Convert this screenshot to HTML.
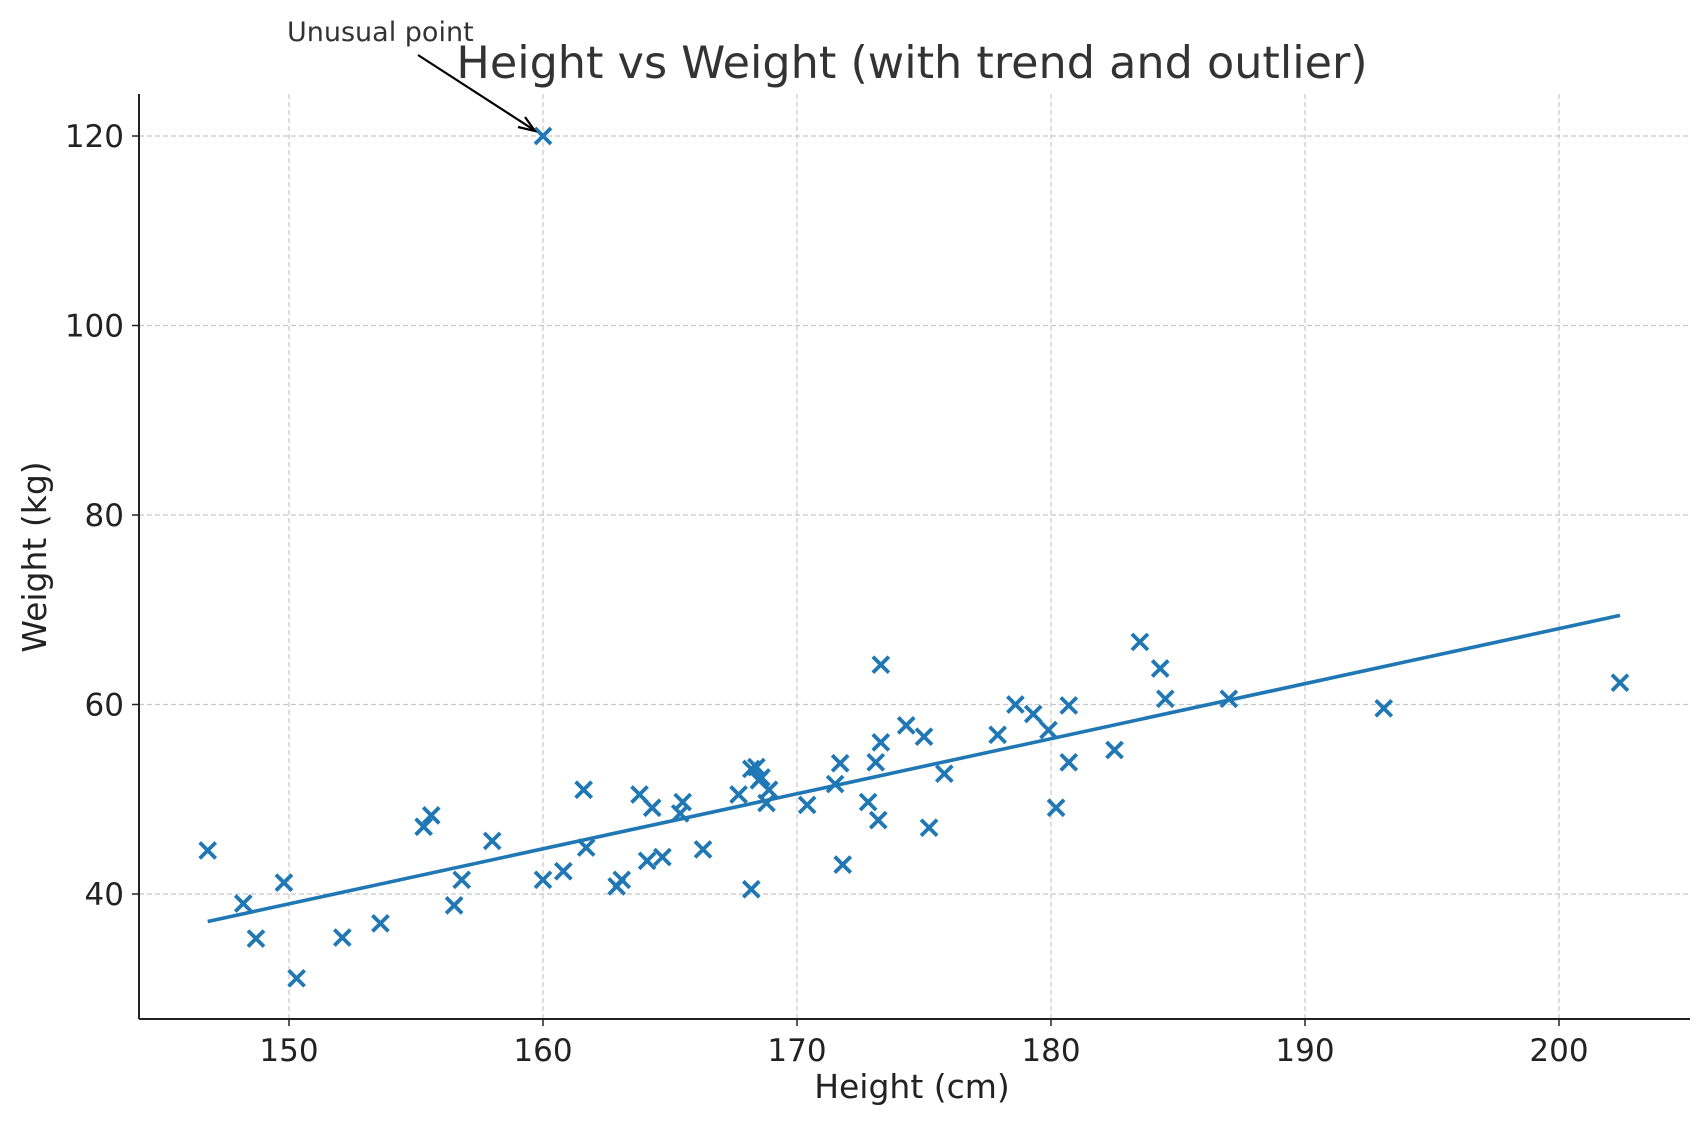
<!DOCTYPE html>
<html><head><meta charset="utf-8"><style>
html,body{margin:0;padding:0;background:#fff;}
svg{display:block;font-family:"DejaVu Sans","Liberation Sans",sans-serif;}
</style></head><body>
<svg id="chart" width="1707" height="1125" viewBox="0 0 1707 1125" xmlns="http://www.w3.org/2000/svg">
<rect width="1707" height="1125" fill="#fff"/>
<g id="grid"></g>
<g id="trend"></g>
<g id="points"></g>
<g id="axes"></g>
<text x="912" y="78" font-size="44.5" fill="#333" text-anchor="middle">Height vs Weight (with trend and outlier)</text>
<text x="912" y="1098" font-size="33" fill="#222" text-anchor="middle">Height (cm)</text>
<text x="0" y="0" font-size="33" fill="#222" text-anchor="middle" transform="translate(46,557) rotate(-90)">Weight (kg)</text>
<g>
<text x="287" y="41" font-size="27" fill="#333">Unusual point</text>
<line x1="418" y1="55" x2="534" y2="130" stroke="#000" stroke-width="2.2"/>
<polyline points="518,127 535,131 525,117" fill="none" stroke="#000" stroke-width="2.2"/>
</g>
</svg>
<script>
const heights=[146.8,148.2,148.7,149.8,150.3,152.1,153.6,155.3,155.6,156.5,156.8,158.0,160.0,160.0,160.8,161.6,161.7,162.9,163.1,163.8,164.3,164.1,164.7,165.5,165.4,166.3,167.7,168.2,168.2,168.4,168.5,168.6,168.8,168.9,170.4,171.5,171.7,171.8,172.8,173.1,173.3,173.3,173.2,174.3,175.0,175.2,175.8,177.9,178.6,179.3,179.9,180.2,180.7,180.7,182.5,183.5,184.3,184.5,187.0,193.1,202.4];
const weights=[44.6,39.0,35.3,41.2,31.1,35.4,36.9,47.1,48.3,38.8,41.5,45.6,120,41.5,42.4,51.0,44.9,40.8,41.5,50.5,49.1,43.5,43.9,49.7,48.5,44.7,50.5,53.2,40.5,53.4,52.0,52.3,49.6,51.0,49.4,51.6,53.8,43.1,49.7,53.9,64.2,56.0,47.8,57.8,56.6,47.0,52.7,56.8,60.0,59.0,57.3,49.1,59.9,53.9,55.2,66.6,63.8,60.6,60.6,59.6,62.3];
const trendRange=[146.8,202.4];
const trendCoef=[0.581,-48.19];
const xTicks=[150,160,170,180,190,200];
const yTicks=[40,60,80,100,120];

const NS="http://www.w3.org/2000/svg";
function xs(v){return 289+(v-150)*25.4;}
function ys(v){return 894-(v-40)*9.475;}
function mk(tag,attrs,parent){const e=document.createElementNS(NS,tag);for(const k in attrs)e.setAttribute(k,attrs[k]);parent.appendChild(e);return e;}
const grid=document.getElementById('grid'),axes=document.getElementById('axes'),pts=document.getElementById('points'),tr=document.getElementById('trend');
const L=139,R=1690,T=94,B=1019;
xTicks.forEach(t=>{
  const x=xs(t);
  const g=mk('line',{x1:x,x2:x,y1:T,y2:B,stroke:'#c8c8c8','stroke-width':1.2,'stroke-dasharray':'5,3'},grid);
  
  
  const tk=mk('line',{x1:x,x2:x,y1:B,y2:B+7,stroke:'#222','stroke-width':1.5},axes);
  
  
  const lb=mk('text',{x:x,y:B+42,'font-size':31,fill:'#222','text-anchor':'middle'},axes);
  lb.textContent=t;
  
  
});
yTicks.forEach(t=>{
  const y=ys(t);
  const g=mk('line',{x1:L,x2:R,y1:y,y2:y,stroke:'#c8c8c8','stroke-width':1.2,'stroke-dasharray':'5,3'},grid);
  
  
  const tk=mk('line',{x1:L-7,x2:L,y1:y,y2:y,stroke:'#222','stroke-width':1.5},axes);
  
  
  const lb=mk('text',{x:L-15,y:y+11,'font-size':31,fill:'#222','text-anchor':'end'},axes);
  lb.textContent=t;
  
  
});
const sp1=mk('line',{x1:L,x2:L,y1:T,y2:B,stroke:'#222','stroke-width':2},axes);


const sp2=mk('line',{x1:L,x2:R,y1:B,y2:B,stroke:'#222','stroke-width':2},axes);


const tl=mk('line',{x1:xs(trendRange[0]),y1:ys(trendCoef[0]*trendRange[0]+trendCoef[1]),x2:xs(trendRange[1]),y2:ys(trendCoef[0]*trendRange[1]+trendCoef[1]),stroke:'#1f77b4','stroke-width':3.6},tr);


heights.forEach((h,i)=>{
  const cx=xs(h),cy=ys(weights[i]),s=8;
  const p=mk('path',{d:`M${cx-s},${cy-s}L${cx+s},${cy+s}M${cx-s},${cy+s}L${cx+s},${cy-s}`,stroke:'#1f77b4','stroke-width':3.8,fill:'none'},pts);
  
  
});
</script>
</body></html>
